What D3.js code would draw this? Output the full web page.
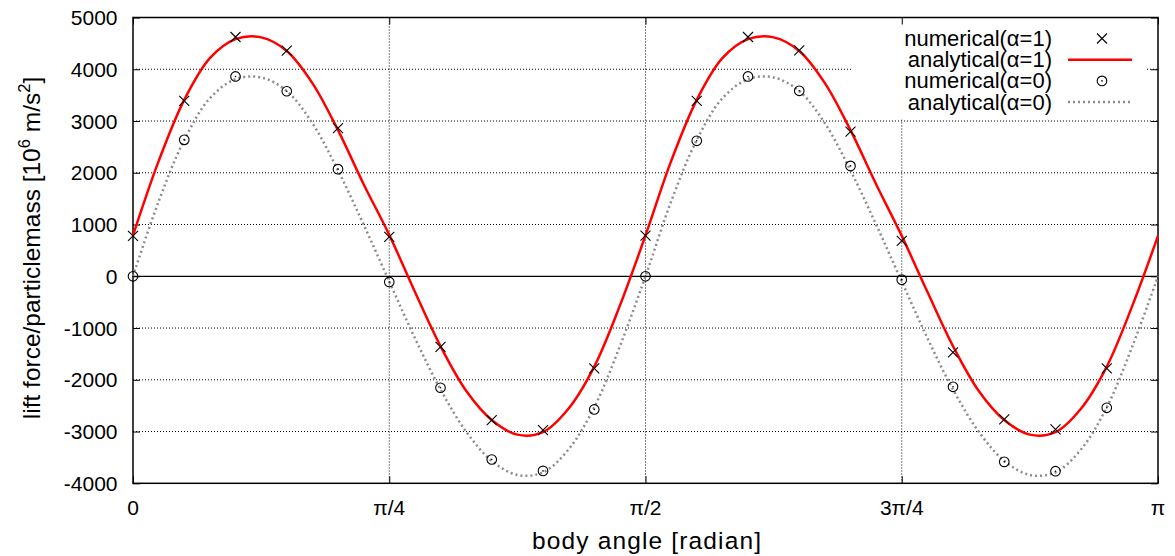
<!DOCTYPE html>
<html>
<head>
<meta charset="utf-8">
<script src="https://cdn.jsdelivr.net/npm/d3@7"></script>
<style>
  body { margin: 0; background: #fff; }
  svg text { font-family: "Liberation Sans", Arial, sans-serif; fill: #000; }
</style>
</head>
<body>
<div class="content"></div>
<script>
const SVG_WIDTH = 1175;
const SVG_HEIGHT = 556;
const PLOT_LEFT = 133, PLOT_RIGHT = 1158, PLOT_TOP = 17.5, PLOT_BOTTOM = 483.3;

// body angle in units of pi
const numAngle = [0, 0.05, 0.1, 0.15, 0.2, 0.25, 0.3, 0.35, 0.4, 0.45,
                  0.5, 0.55, 0.6, 0.65, 0.7, 0.75, 0.8, 0.85, 0.9, 0.95];
const numerical1 = [780, 3391, 4623, 4358, 2862, 760, -1362, -2780, -2973, -1780,
                    785, 3391, 4623, 4364, 2797, 686, -1470, -2766, -2960, -1780];
const numerical0 = [0, 2636, 3861, 3575, 2070, -110, -2154, -3540, -3760, -2573,
                    0, 2617, 3861, 3584, 2133, -65, -2135, -3586, -3766, -2541];

const anaAngle = [0, 0.025, 0.05, 0.075, 0.1, 0.125, 0.15, 0.175, 0.2, 0.225,
                  0.25, 0.275, 0.3, 0.325, 0.35, 0.375, 0.4, 0.425, 0.45, 0.475,
                  0.5, 0.525, 0.55, 0.575, 0.6, 0.625, 0.65, 0.675, 0.7, 0.725,
                  0.75, 0.775, 0.8, 0.825, 0.85, 0.875, 0.9, 0.925, 0.95, 0.975, 1];
const analytical1 = [790, 2225, 3409, 4214, 4581, 4616, 4354, 3733, 2823, 1779,
                     800, -300, -1350, -2211, -2777, -3060, -3010, -2554, -1745, -567,
                     790, 2225, 3409, 4214, 4581, 4616, 4354, 3733, 2823, 1779,
                     780, -300, -1350, -2211, -2777, -3060, -3010, -2554, -1745, -567, 780];
const analytical0 = [0, 1446, 2633, 3439, 3807, 3842, 3579, 2957, 2045, 999,
                     -101, -1193, -2186, -3000, -3566, -3839, -3789, -3343, -2532, -1352,
                     0, 1446, 2633, 3439, 3807, 3842, 3579, 2957, 2045, 999,
                     -101, -1193, -2186, -3000, -3566, -3839, -3789, -3343, -2532, -1352, 0];

const xTicks = [0, 0.25, 0.5, 0.75, 1];
const xTickLabels = ["0", "\u03c0/4", "\u03c0/2", "3\u03c0/4", "\u03c0"];
const yTicks = [-4000, -3000, -2000, -1000, 0, 1000, 2000, 3000, 4000, 5000];
const legendLabels = ["numerical(\u03b1=1)", "analytical(\u03b1=1)", "numerical(\u03b1=0)", "analytical(\u03b1=0)"];

let svg = d3.select(".content").append("svg").attr("width", SVG_WIDTH).attr("height", SVG_HEIGHT);
let x = d3.scaleLinear().domain([0, 1]).range([PLOT_LEFT, PLOT_RIGHT]);
let y = d3.scaleLinear().domain([-4000, 5000]).range([PLOT_BOTTOM, PLOT_TOP]);

//grid lines (dotted)
let grid = svg.append("g").attr("class", "grid")
  .attr("stroke", "#000").attr("stroke-width", 1).attr("stroke-dasharray", "1,2");
grid.selectAll(".gy").data(yTicks.filter(d => d !== 0 && d !== 5000 && d !== -4000)).join("line")
  .attr("x1", PLOT_LEFT).attr("x2", PLOT_RIGHT).attr("y1", d => y(d)).attr("y2", d => y(d));
grid.selectAll(".gx").data(xTicks.slice(1, -1)).join("line")
  .attr("y1", PLOT_TOP).attr("y2", PLOT_BOTTOM).attr("x1", d => x(d)).attr("x2", d => x(d));

//key area hides the grid
svg.append("rect").attr("x", 853).attr("y", PLOT_TOP).attr("width", 293).attr("height", 102).attr("fill", "#fff");

//zero axis
svg.append("line").attr("x1", PLOT_LEFT).attr("x2", PLOT_RIGHT).attr("y1", y(0)).attr("y2", y(0))
  .attr("stroke", "#000").attr("stroke-width", 1.3);

//axes with inner ticks on all sides
let axisL = d3.axisLeft(y).tickValues(yTicks).tickSize(-7).tickFormat("");
let axisR = d3.axisRight(y).tickValues(yTicks).tickSize(-7).tickFormat("");
let axisB = d3.axisBottom(x).tickValues(xTicks).tickSize(-7).tickFormat("");
let axisT = d3.axisTop(x).tickValues(xTicks).tickSize(-7).tickFormat("");
svg.append("g").attr("transform", "translate(" + PLOT_LEFT + ",0)").call(axisL);
svg.append("g").attr("transform", "translate(" + PLOT_RIGHT + ",0)").call(axisR);
svg.append("g").attr("transform", "translate(0," + PLOT_BOTTOM + ")").call(axisB);
svg.append("g").attr("transform", "translate(0," + PLOT_TOP + ")").call(axisT);
svg.selectAll(".domain").remove();
svg.selectAll(".tick line").attr("stroke", "#000").attr("stroke-width", 1);

svg.append("rect").attr("x", PLOT_LEFT).attr("y", PLOT_TOP)
  .attr("width", PLOT_RIGHT - PLOT_LEFT).attr("height", PLOT_BOTTOM - PLOT_TOP)
  .attr("fill", "none").attr("stroke", "#000").attr("stroke-width", 1.5);

//tick labels
svg.append("g").selectAll("text").data(yTicks).join("text")
  .attr("x", 117.5).attr("y", d => y(d) + 7.5).attr("text-anchor", "end")
  .style("font-size", "21px").text(d => d);
svg.append("g").selectAll("text").data(xTicks).join("text")
  .attr("x", d => x(d)).attr("y", 515).attr("text-anchor", "middle")
  .style("font-size", "21px").text((d, i) => xTickLabels[i]);

//axis titles
svg.append("text").attr("x", 646.5).attr("y", 549)
  .attr("text-anchor", "middle").style("font-size", "24.5px")
  .attr("textLength", 229).attr("lengthAdjust", "spacing").text("body angle [radian]");
let ylab = svg.append("text").attr("transform", "translate(40,248) rotate(-90)")
  .attr("text-anchor", "middle").style("font-size", "24.5px");
ylab.append("tspan").text("lift force/particlemass [10");
ylab.append("tspan").attr("dy", -10).style("font-size", "16.5px").text("6");
ylab.append("tspan").attr("dy", 10).text(" m/s");
ylab.append("tspan").attr("dy", -10).style("font-size", "16.5px").text("2");
ylab.append("tspan").attr("dy", 10).text("]");

//analytical curves
let linegen = d3.line().x(d => x(d[0])).y(d => y(d[1])).curve(d3.curveCatmullRom.alpha(0.5));
svg.append("path").datum(anaAngle.map((a, i) => [a, analytical0[i]]))
  .attr("d", linegen).attr("fill", "none").attr("stroke", "#8c8c8c")
  .attr("stroke-width", 2.5).attr("stroke-dasharray", "2,3");
svg.append("path").datum(anaAngle.map((a, i) => [a, analytical1[i]]))
  .attr("d", linegen).attr("fill", "none").attr("stroke", "#ff0000").attr("stroke-width", 2.5);

//numerical points
function drawCross(g, cx, cy) {
  g.append("path").attr("d", "M" + (cx - 5) + "," + (cy - 5) + "L" + (cx + 5) + "," + (cy + 5) +
    "M" + (cx - 5) + "," + (cy + 5) + "L" + (cx + 5) + "," + (cy - 5))
    .attr("stroke", "#000").attr("stroke-width", 1.1).attr("fill", "none");
}
function drawCircle(g, cx, cy) {
  g.append("circle").attr("cx", cx).attr("cy", cy).attr("r", 4.8)
    .attr("stroke", "#000").attr("stroke-width", 1.1).attr("fill", "none");
  g.append("circle").attr("cx", cx).attr("cy", cy).attr("r", 0.8).attr("fill", "#000");
}
let pts1 = svg.append("g");
numAngle.forEach((a, i) => drawCross(pts1, x(a), y(numerical1[i])));
let pts0 = svg.append("g");
numAngle.forEach((a, i) => drawCircle(pts0, x(a), y(numerical0[i])));

//key
let key = svg.append("g");
key.selectAll("text").data(legendLabels).join("text")
  .attr("x", 1052).attr("y", (d, i) => 46 + i * 21.2).attr("text-anchor", "end")
  .style("font-size", "22px").text(d => d);
drawCross(key, 1102, 38.5);
key.append("line").attr("x1", 1068).attr("x2", 1132).attr("y1", 59.7).attr("y2", 59.7)
  .attr("stroke", "#ff0000").attr("stroke-width", 2.5);
drawCircle(key, 1102, 80.9);
key.append("line").attr("x1", 1068).attr("x2", 1132).attr("y1", 102).attr("y2", 102)
  .attr("stroke", "#8c8c8c").attr("stroke-width", 2.5).attr("stroke-dasharray", "2,3");
</script>
</body>
</html>
